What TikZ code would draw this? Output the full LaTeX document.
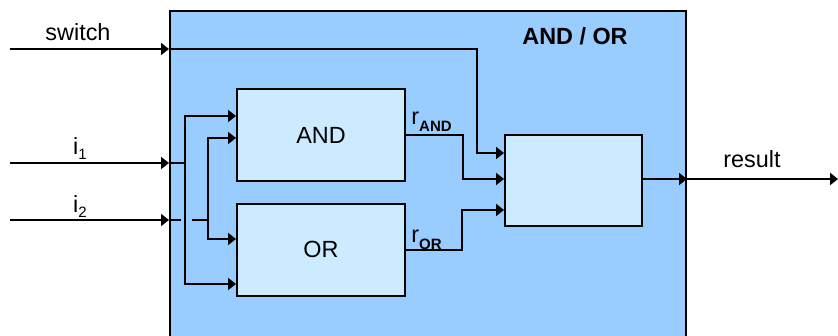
\documentclass[tikz,border=0pt]{standalone}
\usepackage{fontspec}
\setmainfont{Liberation Sans}
\usetikzlibrary{arrows.meta,positioning,calc}
\definecolor{outerblue}{HTML}{99CCFF}
\definecolor{innerblue}{HTML}{CCEBFF}
\tikzset{
  gatebox/.style={draw, line width=1pt, fill=innerblue, minimum width=84pt,
    minimum height=46pt, inner sep=0pt, font=\fontsize{11.7}{14}\selectfont},
  selbox/.style={draw, line width=1pt, fill=innerblue, minimum width=68.5pt,
    minimum height=45.5pt, inner sep=0pt},
  arrow/.style={-{Triangle[length=4pt,width=6pt]}, line width=1pt},
  wire/.style={line width=1pt},
  lbl/.style={inner sep=0pt, font=\fontsize{11.7}{14}\selectfont}
}
\newcommand{\lowsub}[2]{\raisebox{#1}{\fontsize{7.5}{8}\selectfont #2}}

\begin{document}
\begin{tikzpicture}[x=0.5pt, y=-0.5pt]
    \useasboundingbox (0,0) rectangle (838,336);
    \clip (0,0) rectangle (838,336);
    % frame and blocks
    \node[draw, fill=outerblue, line width=1pt, minimum width=258pt, minimum height=164pt,
      anchor=north west, inner sep=0pt] (outer) at (169,10) {};
    \node[gatebox] (andgate) at (321,135) {AND};
    \node[gatebox] (orgate) at (321,249.5) {OR};
    \node[selbox] (sel) at (573.5,180.5) {};
    % labels
    \node[lbl, anchor=base] (swlbl) at (78,40.7) {switch};
    \node[lbl, anchor=base west] (ionelbl) at (72.7,155) {i\lowsub{-2.5pt}{1}};
    \node[lbl, anchor=base west] (itwolbl) at (72.7,212) {i\lowsub{-2.5pt}{2}};
    \node[lbl, anchor=base west] (randlbl) at (411,125) {r\lowsub{-3.5pt}{\bfseries AND}};
    \node[lbl, anchor=base west] (rorlbl) at (411,242) {r\lowsub{-3.5pt}{\bfseries OR}};
    \node[lbl, anchor=base] (reslbl) at (752,168) {result};
    \node[lbl, anchor=base, font=\fontsize{11.7}{14}\selectfont\bfseries] (title) at (575,45) {AND / OR};
    % ports
    \coordinate (sw) at (10,49);
    \coordinate (swin) at (outer.west |- sw);
    \coordinate (ione) at (10,163);
    \coordinate (ionein) at (outer.west |- ione);
    \coordinate (itwo) at (10,220);
    \coordinate (itwoin) at (outer.west |- itwo);
    \coordinate (jone) at (185,163);
    \coordinate (jtwo) at (208,220);
    \coordinate (aone) at ($(andgate.west)+(0,-19)$);
    \coordinate (atwo) at ($(andgate.west)+(0,3)$);
    \coordinate (oone) at ($(orgate.west)+(0,-10.5)$);
    \coordinate (otwo) at ($(orgate.west)+(0,34.5)$);
    \coordinate (sone) at ($(sel.west)+(0,-27.5)$);
    \coordinate (stwo) at ($(sel.west)+(0,-1.5)$);
    \coordinate (sthree) at ($(sel.west)+(0,29.5)$);
    \coordinate (resout) at (outer.east |- stwo);
    \coordinate (resend) at (838,179);
    % inputs
    \foreach \a/\b in {sw/swin,ione/ionein,itwo/itwoin}
      \draw[arrow] (\a) -- (\b);
    \draw[arrow] (swin) -| ($(sone)+(-27,0)$) -- (sone);
    \draw[wire] (ionein) -- (jone);
    \draw[arrow] (jone) |- (aone);
    \draw[arrow] (jone) |- (otwo);
    \draw[wire] (itwoin) -- ++(12,0);
    \draw[wire] (192,220) -- (jtwo);
    \draw[arrow] (jtwo) |- (atwo);
    \draw[arrow] (jtwo) |- (oone);
    % results
    \draw[arrow] (andgate.east) -- ++(57,0) |- (stwo);
    \draw[arrow] (orgate.east) -- ++(56,0) |- (sthree);
    \draw[arrow] (sel.east |- stwo) -- (resout);
    \draw[arrow] (resout) -- (resend);
\end{tikzpicture}
\end{document}
